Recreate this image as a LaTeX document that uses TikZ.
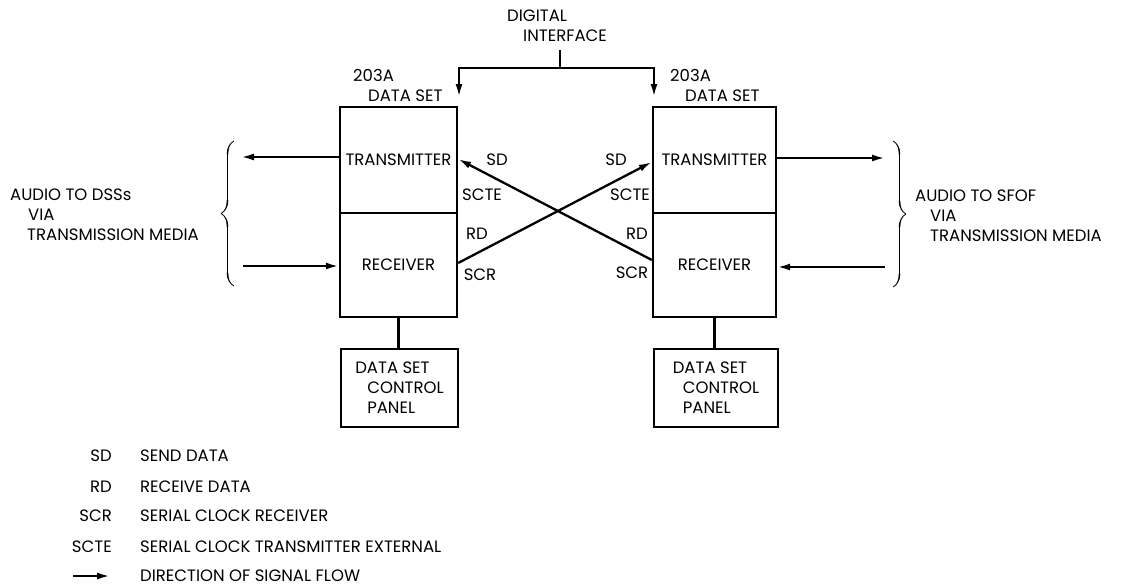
\documentclass[tikz,border=0pt]{standalone}
\usepackage{fontspec}
\setmainfont{Poppins}
\usetikzlibrary{arrows.meta,decorations.pathreplacing,calligraphy}

\tikzset{
	setbox/.style={draw,rectangle,inner sep=0pt,line width=2.3pt,font=\fontsize{16.5}{20}\selectfont},
	txt/.style={inner sep=0pt,align=left,font=\fontsize{16.5}{20}\selectfont},
	sig/.style={-{Latex[length=13pt,width=7pt]},line width=2.3pt},
	audiobrace/.style={decorate,decoration={calligraphic brace,amplitude=13pt},line width=1.6pt},
}

\begin{document}
\begin{tikzpicture}[x=1pt,y=-1pt]
			\useasboundingbox (0,0) rectangle (1122,587);

			% data sets
			\node[setbox,minimum width=117pt,minimum height=106pt] (ltx) at (398.5,160) {TRANSMITTER};
			\node[setbox,minimum width=117pt,minimum height=104pt] (lrx) at (398.5,265) {RECEIVER};
			\node[setbox,minimum width=123pt,minimum height=106pt] (rtx) at (714.5,160) {TRANSMITTER};
			\node[setbox,minimum width=123pt,minimum height=104pt] (rrx) at (714.5,265) {RECEIVER};

			\node[setbox,minimum width=117pt,minimum height=78pt,align=left] (lcp) at (399.5,388) {DATA SET\\\hspace*{12pt}CONTROL\\\hspace*{12pt}PANEL};
			\node[setbox,minimum width=124pt,minimum height=78pt,align=left] (rcp) at (716,388) {DATA SET\\\hspace*{10pt}CONTROL\\\hspace*{10pt}PANEL};
			\draw[line width=2.3pt] (lrx.south) -- (lrx.south |- lcp.north);
			\draw[line width=2.3pt] (rrx.south) -- (rrx.south |- rcp.north);

			\node[txt,anchor=north west] (lname) at (353,69) {203A\\\hspace*{15pt}DATA SET};
			\node[txt,anchor=north west] (rname) at (670,69) {203A\\\hspace*{15pt}DATA SET};

			% digital interface
			\node[txt,anchor=north west] (di) at (507,10) {DIGITAL\\\hspace*{16pt}INTERFACE};
			\coordinate (ditop) at (560,50);
			\coordinate (dij) at (560,68);
			\coordinate (lin) at (459,97);
			\coordinate (rin) at (654,97);
			\draw[line width=2.3pt] (ditop) -- (dij);
			\draw[sig] (dij) -| (lin);
			\draw[sig] (dij) -| (rin);

			% interchange circuits
			\draw[sig] (rrx.west |- 0,260) -- (ltx.east |- 0,159);
			\draw[sig] (lrx.east |- 0,263) -- (rtx.west |- 0,162);

			\node[txt] (lsd) at (497,160) {SD};
			\node[txt] (lscte) at (482,195) {SCTE};
			\node[txt] (lrd) at (477,234) {RD};
			\node[txt] (lscr) at (480,275) {SCR};
			\node[txt] (rsd) at (616,160) {SD};
			\node[txt] (rscte) at (630,195) {SCTE};
			\node[txt] (rrd) at (637,234) {RD};
			\node[txt] (rscr) at (632,273) {SCR};

			% audio side
			\coordinate (laout) at (241,157);
			\coordinate (lain) at (243,266);
			\coordinate (raout) at (885,158);
			\coordinate (rain) at (885,267);
			\draw[sig] (ltx.west |- laout) -- (laout);
			\draw[sig] (lain) -- (lrx.west |- lain);
			\draw[sig] (rtx.east |- raout) -- (raout);
			\draw[sig] (rain) -- (rrx.east |- rain);

			\draw[audiobrace] (234,286) -- (234,141);
			\draw[audiobrace] (893,141) -- (893,287);

			\node[txt,anchor=north west] (laudio) at (10,189) {AUDIO TO DSSs\\\hspace*{18pt}VIA\\\hspace*{17pt}TRANSMISSION MEDIA};
			\node[txt,anchor=north west] (raudio) at (915,190) {AUDIO TO SFOF\\\hspace*{15pt}VIA\\\hspace*{15pt}TRANSMISSION MEDIA};

			% legend
			\node[txt,anchor=north east] (ksd) at (112,450) {SD};
			\node[txt,anchor=north east] (krd) at (112,481) {RD};
			\node[txt,anchor=north east] (kscr) at (112,510) {SCR};
			\node[txt,anchor=north east] (kscte) at (112,541) {SCTE};
			\node[txt,anchor=north west] (tsd) at (140,450) {SEND DATA};
			\node[txt,anchor=north west] (trd) at (140,481) {RECEIVE DATA};
			\node[txt,anchor=north west] (tscr) at (140,510) {SERIAL CLOCK RECEIVER};
			\node[txt,anchor=north west] (tscte) at (140,541) {SERIAL CLOCK TRANSMITTER EXTERNAL};
			\node[txt,anchor=north west] (tflow) at (140,570) {DIRECTION OF SIGNAL FLOW};
			\coordinate (kfrom) at (73,576);
			\coordinate (kto) at (110,576);
			\draw[sig] (kfrom) -- (kto);
		\end{tikzpicture}
\end{document}
